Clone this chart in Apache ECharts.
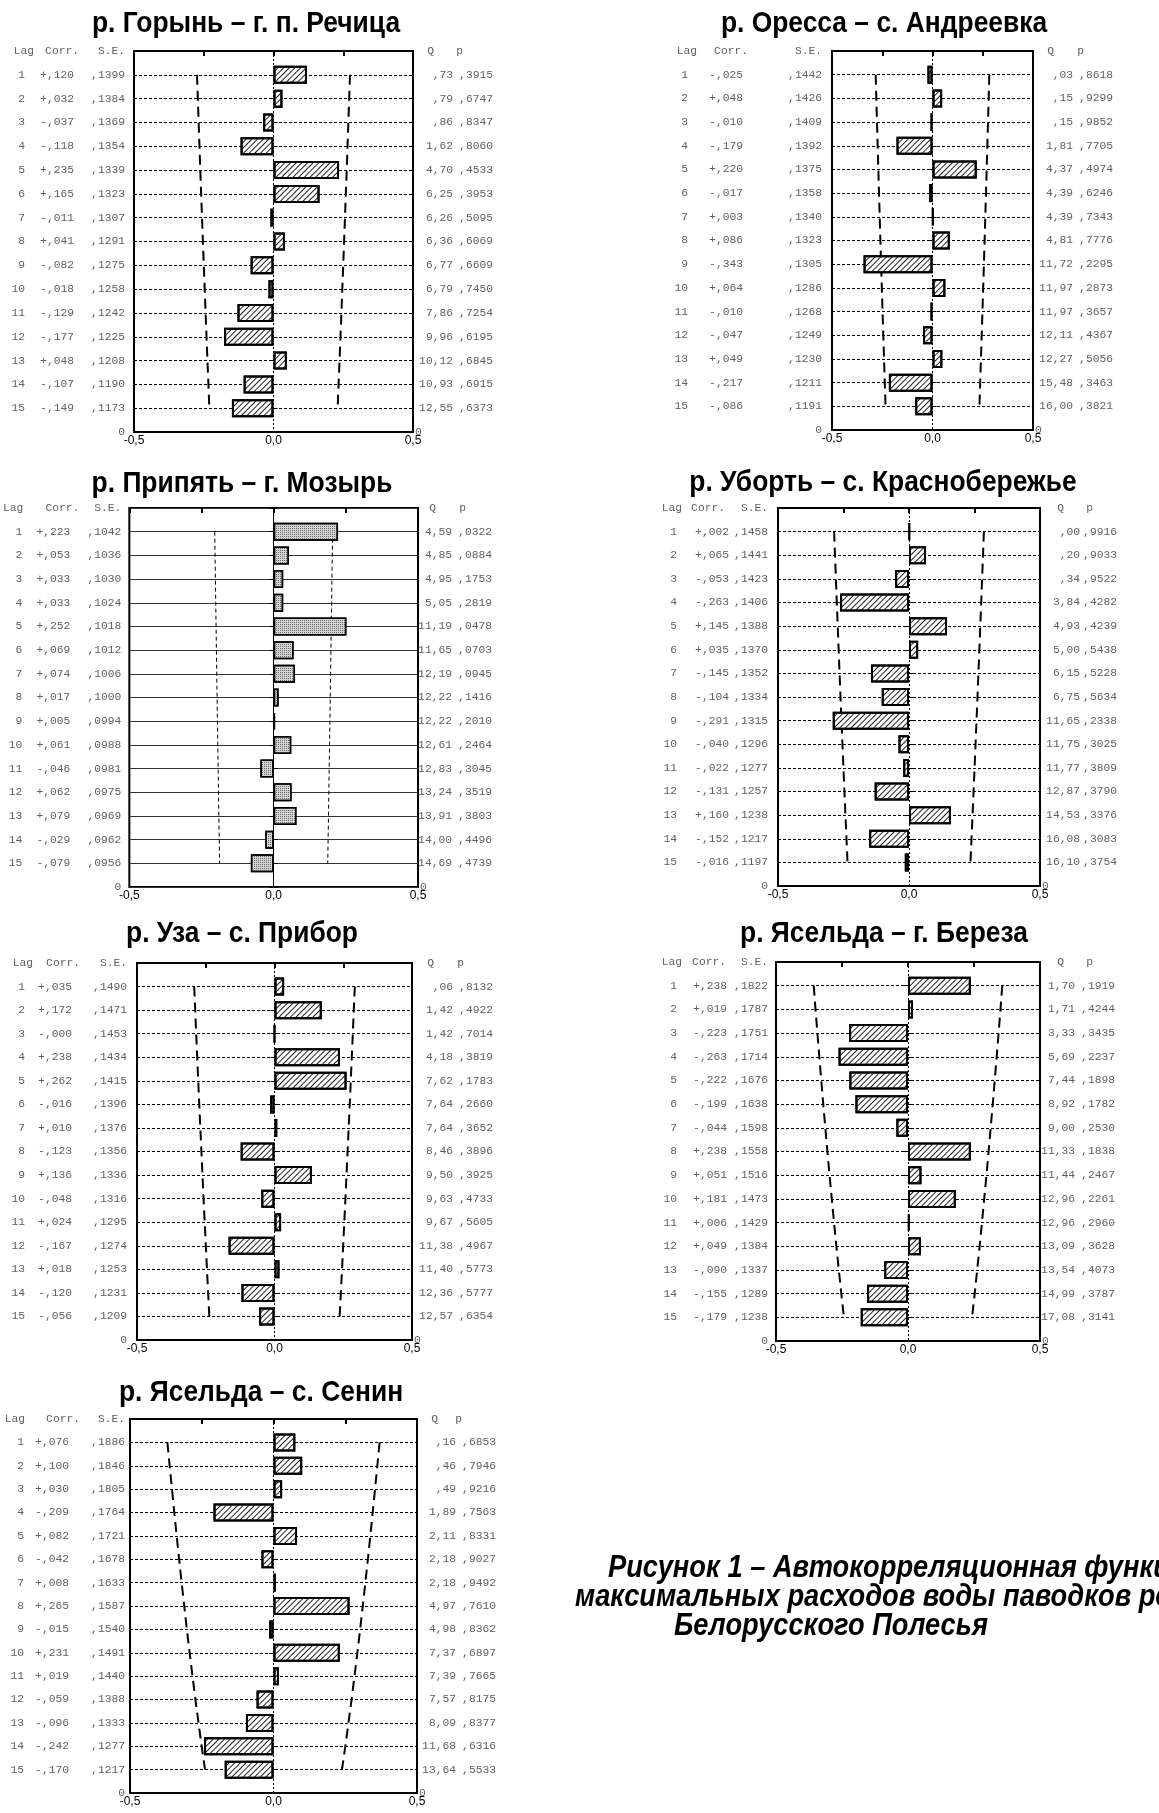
<!DOCTYPE html>
<html>
<head>
<meta charset="utf-8">
<script src="https://cdn.jsdelivr.net/npm/echarts@6/dist/echarts.min.js"></script>
<style>
html, body { margin: 0; padding: 0; background: #fff; }
#chart { width: 1159px; height: 1813px; }
</style>
</head>
<body>
<div id="chart"></div>
<script>
// лаги 1..15
var lags = [1, 2, 3, 4, 5, 6, 7, 8, 9, 10, 11, 12, 13, 14, 15];

// р. Горынь – г. п. Речица
var corrGor = [0.120, 0.032, -0.037, -0.118, 0.235, 0.165, -0.011, 0.041, -0.082, -0.018, -0.129, -0.177, 0.048, -0.107, -0.149];
var seGor   = [0.1399, 0.1384, 0.1369, 0.1354, 0.1339, 0.1323, 0.1307, 0.1291, 0.1275, 0.1258, 0.1242, 0.1225, 0.1208, 0.1190, 0.1173];
var qGor    = [0.73, 0.79, 0.86, 1.62, 4.70, 6.25, 6.26, 6.36, 6.77, 6.79, 7.86, 9.96, 10.12, 10.93, 12.55];
var pGor    = [0.3915, 0.6747, 0.8347, 0.8060, 0.4533, 0.3953, 0.5095, 0.6069, 0.6609, 0.7450, 0.7254, 0.6195, 0.6845, 0.6915, 0.6373];

// р. Оресса – с. Андреевка
var corrOre = [-0.025, 0.048, -0.010, -0.179, 0.220, -0.017, 0.003, 0.086, -0.343, 0.064, -0.010, -0.047, 0.049, -0.217, -0.086];
var seOre   = [0.1442, 0.1426, 0.1409, 0.1392, 0.1375, 0.1358, 0.1340, 0.1323, 0.1305, 0.1286, 0.1268, 0.1249, 0.1230, 0.1211, 0.1191];
var qOre    = [0.03, 0.15, 0.15, 1.81, 4.37, 4.39, 4.39, 4.81, 11.72, 11.97, 11.97, 12.11, 12.27, 15.48, 16.00];
var pOre    = [0.8618, 0.9299, 0.9852, 0.7705, 0.4974, 0.6246, 0.7343, 0.7776, 0.2295, 0.2873, 0.3657, 0.4367, 0.5056, 0.3463, 0.3821];

// р. Припять – г. Мозырь
var corrPri = [0.223, 0.053, 0.033, 0.033, 0.252, 0.069, 0.074, 0.017, 0.005, 0.061, -0.046, 0.062, 0.079, -0.029, -0.079];
var sePri   = [0.1042, 0.1036, 0.1030, 0.1024, 0.1018, 0.1012, 0.1006, 0.1000, 0.0994, 0.0988, 0.0981, 0.0975, 0.0969, 0.0962, 0.0956];
var qPri    = [4.59, 4.85, 4.95, 5.05, 11.19, 11.65, 12.19, 12.22, 12.22, 12.61, 12.83, 13.24, 13.91, 14.00, 14.69];
var pPri    = [0.0322, 0.0884, 0.1753, 0.2819, 0.0478, 0.0703, 0.0945, 0.1416, 0.2010, 0.2464, 0.3045, 0.3519, 0.3803, 0.4496, 0.4739];

// р. Уборть – с. Краснобережье
var corrUbo = [0.002, 0.065, -0.053, -0.263, 0.145, 0.035, -0.145, -0.104, -0.291, -0.040, -0.022, -0.131, 0.160, -0.152, -0.016];
var seUbo   = [0.1458, 0.1441, 0.1423, 0.1406, 0.1388, 0.1370, 0.1352, 0.1334, 0.1315, 0.1296, 0.1277, 0.1257, 0.1238, 0.1217, 0.1197];
var qUbo    = [0.00, 0.20, 0.34, 3.84, 4.93, 5.00, 6.15, 6.75, 11.65, 11.75, 11.77, 12.87, 14.53, 16.08, 16.10];
var pUbo    = [0.9916, 0.9033, 0.9522, 0.4282, 0.4239, 0.5438, 0.5228, 0.5634, 0.2338, 0.3025, 0.3809, 0.3790, 0.3376, 0.3083, 0.3754];

// р. Уза – с. Прибор
var corrUza = [0.035, 0.172, -0.000, 0.238, 0.262, -0.016, 0.010, -0.123, 0.136, -0.048, 0.024, -0.167, 0.018, -0.120, -0.056];
var seUza   = [0.1490, 0.1471, 0.1453, 0.1434, 0.1415, 0.1396, 0.1376, 0.1356, 0.1336, 0.1316, 0.1295, 0.1274, 0.1253, 0.1231, 0.1209];
var qUza    = [0.06, 1.42, 1.42, 4.18, 7.62, 7.64, 7.64, 8.46, 9.50, 9.63, 9.67, 11.38, 11.40, 12.36, 12.57];
var pUza    = [0.8132, 0.4922, 0.7014, 0.3819, 0.1783, 0.2660, 0.3652, 0.3896, 0.3925, 0.4733, 0.5605, 0.4967, 0.5773, 0.5777, 0.6354];

// р. Ясельда – г. Береза
var corrBer = [0.238, 0.019, -0.223, -0.263, -0.222, -0.199, -0.044, 0.238, 0.051, 0.181, 0.006, 0.049, -0.090, -0.155, -0.179];
var seBer   = [0.1822, 0.1787, 0.1751, 0.1714, 0.1676, 0.1638, 0.1598, 0.1558, 0.1516, 0.1473, 0.1429, 0.1384, 0.1337, 0.1289, 0.1238];
var qBer    = [1.70, 1.71, 3.33, 5.69, 7.44, 8.92, 9.00, 11.33, 11.44, 12.96, 12.96, 13.09, 13.54, 14.99, 17.08];
var pBer    = [0.1919, 0.4244, 0.3435, 0.2237, 0.1898, 0.1782, 0.2530, 0.1838, 0.2467, 0.2261, 0.2960, 0.3628, 0.4073, 0.3787, 0.3141];

// р. Ясельда – с. Сенин
var corrSen = [0.076, 0.100, 0.030, -0.209, 0.082, -0.042, 0.008, 0.265, -0.015, 0.231, 0.019, -0.059, -0.096, -0.242, -0.170];
var seSen   = [0.1886, 0.1846, 0.1805, 0.1764, 0.1721, 0.1678, 0.1633, 0.1587, 0.1540, 0.1491, 0.1440, 0.1388, 0.1333, 0.1277, 0.1217];
var qSen    = [0.16, 0.46, 0.49, 1.89, 2.11, 2.18, 2.18, 4.97, 4.98, 7.37, 7.39, 7.57, 8.09, 11.68, 13.64];
var pSen    = [0.6853, 0.7946, 0.9216, 0.7563, 0.8331, 0.9027, 0.9492, 0.7610, 0.8362, 0.6897, 0.7665, 0.8175, 0.8377, 0.6316, 0.5533];

var captionLines = [
	'Рисунок 1 – Автокорреляционная функция',
	'максимальных расходов воды паводков рек',
	'Белорусского Полесья'
];

// раскладка панелей (пиксели)
var panels = [
	{ title: 'р. Горынь – г. п. Речица', corr: corrGor, se: seGor, q: qGor, p: pGor,
	  box: [134, 51, 279, 381], tx: [246, 24],
	  L: { lagR: 25, corrR: 74, seR: 125, LagR: 34, CorrR: 79 }, R: { qR: 453, pR: 493, QR: 434, PR: 463 } },
	{ title: 'р. Оресса – с. Андреевка', corr: corrOre, se: seOre, q: qOre, p: pOre,
	  box: [832, 51, 201, 379], tx: [884, 24],
	  L: { lagR: 688, corrR: 743, seR: 822, LagR: 697, CorrR: 748 }, R: { qR: 1073, pR: 1113, QR: 1054, PR: 1084 } },
	{ title: 'р. Припять – г. Мозырь', corr: corrPri, se: sePri, q: qPri, p: pPri, dots: true,
	  box: [128, 508, 290, 379], tx: [242, 484],
	  L: { lagR: 21, corrR: 69, seR: 120, LagR: 22, CorrR: 78 }, R: { qR: 452, pR: 492, QR: 436, PR: 466 } },
	{ title: 'р. Уборть – с. Краснобережье', corr: corrUbo, se: seUbo, q: qUbo, p: pUbo,
	  box: [778, 508, 262, 378], tx: [883, 483],
	  L: { lagR: 677, corrR: 729, seR: 768, LagR: 682, CorrR: 725 }, R: { qR: 1080, pR: 1117, QR: 1064, PR: 1093 } },
	{ title: 'р. Уза – с. Прибор', corr: corrUza, se: seUza, q: qUza, p: pUza,
	  box: [137, 963, 275, 377], tx: [242, 934],
	  L: { lagR: 25, corrR: 72, seR: 127, LagR: 33, CorrR: 80 }, R: { qR: 453, pR: 493, QR: 434, PR: 464 } },
	{ title: 'р. Ясельда – г. Береза', corr: corrBer, se: seBer, q: qBer, p: pBer,
	  box: [776, 962, 264, 379], tx: [884, 934],
	  L: { lagR: 677, corrR: 727, seR: 768, LagR: 682, CorrR: 726 }, R: { qR: 1075, pR: 1115, QR: 1064, PR: 1093 } },
	{ title: 'р. Ясельда – с. Сенин', corr: corrSen, se: seSen, q: qSen, p: pSen,
	  box: [130, 1419, 287, 374], tx: [261, 1393],
	  L: { lagR: 24, corrR: 69, seR: 125, LagR: 25, CorrR: 80 }, R: { qR: 456, pR: 496, QR: 438, PR: 462 } }
];

var MONO = '"Liberation Mono", "Courier New", monospace';
var SANS = '"Liberation Sans", Arial, sans-serif';

function fmtCorr(v) {
	var sign = (v < 0 || Object.is(v, -0)) ? '-' : '+';
	return sign + Math.abs(v).toFixed(3).replace(/^0\./, ',');
}
function fmtDec(v, d) {
	return v.toFixed(d).replace('.', ',').replace(/^0,/, ',');
}
function mono(extra) {
	var s = { fontFamily: MONO, fontSize: 11.3, color: '#606060' };
	for (var k in extra) s[k] = extra[k];
	return s;
}

var cats = [];
for (var i = 0; i <= 16; i++) cats.push(String(i));

var grids = [], xAxes = [], yAxes = [], series = [], graphics = [];

panels.forEach(function (pn, n) {
	var b = pn.box, L = pn.L, R = pn.R;
	var axL = b[0], axR = b[0] + b[2];
	var start = axR + 2;
	grids.push({ left: b[0], top: b[1], width: b[2], height: b[3], show: true,
		borderColor: '#000', borderWidth: 2, backgroundColor: 'transparent' });

	xAxes.push({
		type: 'value', gridIndex: n, min: -0.5, max: 0.5, interval: 0.5,
		axisLine: { show: false }, axisTick: { show: false },
		axisLabel: { margin: 3, color: '#000', fontFamily: SANS, fontSize: 12,
			formatter: function (v) { return v.toFixed(1).replace('.', ','); } },
		splitLine: { show: true, lineStyle: { color: '#000', width: 1, type: pn.dots ? 'solid' : [2, 2] } }
	});
	xAxes.push({
		type: 'value', gridIndex: n, position: 'top', min: -0.5, max: 0.5, interval: 0.25,
		axisLine: { show: false }, axisLabel: { show: false }, splitLine: { show: false },
		axisTick: { show: true, inside: true, length: 5, lineStyle: { color: '#000', width: 2 } }
	});

	var leftRich = {
		a: mono({ width: 40, align: 'right' }),
		b: mono({ width: L.corrR - L.lagR, align: 'right' }),
		c: mono({ width: L.seR - L.corrR, align: 'right' }),
		ha: mono({ width: 40, align: 'right' }),
		hb: mono({ width: L.CorrR - L.LagR, align: 'right' }),
		hc: mono({ width: L.seR - L.CorrR, align: 'right' }),
		z: mono({})
	};
	var rightRich = {
		q: mono({ width: R.qR - start, align: 'right' }),
		p: mono({ width: R.pR - R.qR, align: 'right' }),
		hq: mono({ width: R.QR - start, align: 'right' }),
		hp: mono({ width: R.PR - R.QR, align: 'right' }),
		z: mono({})
	};
	var sideTick = { show: true, inside: true, length: 4, interval: 0, lineStyle: { color: '#000', width: 1 } };

	yAxes.push({
		type: 'category', gridIndex: n, data: cats, inverse: true, boundaryGap: false,
		axisLine: { show: false }, axisTick: sideTick,
		splitLine: { show: true, lineStyle: { color: pn.dots ? '#333' : '#000', width: 1, type: pn.dots ? 'solid' : [3, 2] } },
		axisLabel: {
			interval: 0, margin: axL - L.seR, rich: leftRich,
			formatter: function (v, idx) {
				if (idx === 0) return '{ha|Lag}{hb|Corr.}{hc|S.E.}';
				if (idx === 16) return '{z|0}';
				var k = idx - 1;
				return '{a|' + lags[k] + '}{b|' + fmtCorr(pn.corr[k]) + '}{c|' + fmtDec(pn.se[k], 4) + '}';
			}
		}
	});
	yAxes.push({
		type: 'category', gridIndex: n, data: cats, inverse: true, boundaryGap: false, position: 'right',
		axisLine: { show: false }, axisTick: sideTick, splitLine: { show: false },
		axisLabel: {
			interval: 0, margin: start - axR, rich: rightRich,
			formatter: function (v, idx) {
				if (idx === 0) return '{hq|Q}{hp|p}';
				if (idx === 16) return '{z|0}';
				var k = idx - 1;
				return '{q|' + fmtDec(pn.q[k], 2) + '}{p|' + fmtDec(pn.p[k], 4) + '}';
			}
		}
	});

	var decal = pn.dots
		? { symbol: 'rect', symbolSize: 1, color: '#6a6a6a', dashArrayX: [1, 1], dashArrayY: [1, 1] }
		: { symbol: 'rect', symbolSize: 1, color: '#222', dashArrayX: [1, 0], dashArrayY: [1, 2.2], rotation: -Math.PI / 4 };

	series.push({
		type: 'bar', xAxisIndex: 2 * n, yAxisIndex: 2 * n, silent: true, z: 4,
		barWidth: 18,
		itemStyle: { color: pn.dots ? '#d4d4d4' : '#fff', borderColor: '#000', borderWidth: pn.dots ? 1.5 : 2, decal: decal },
		data: ['-'].concat(pn.corr).concat(['-'])
	});
	// доверительные границы ±1,96·S.E.
	[1, -1].forEach(function (sgn) {
		series.push({
			type: 'line', xAxisIndex: 2 * n, yAxisIndex: 2 * n, silent: true, z: 3,
			symbol: 'none', animation: false,
			lineStyle: { color: '#000', width: pn.dots ? 1 : 2, type: pn.dots ? [4, 3] : [10, 6] },
			data: lags.map(function (l, k) { return [sgn * 1.96 * pn.se[k], l]; })
		});
	});

	graphics.push({
		type: 'text', x: pn.tx[0], y: pn.tx[1], scaleX: 0.88,
		style: { text: pn.title, font: 'bold 30px ' + SANS, fill: '#000',
			align: 'center', verticalAlign: 'middle', textAlign: 'center', textVerticalAlign: 'middle' }
	});
});

var capPos = [[608, 1568], [575, 1597], [674, 1626]];
captionLines.forEach(function (t, i) {
	graphics.push({
		type: 'text', x: capPos[i][0], y: capPos[i][1], scaleX: 0.88,
		style: { text: t, font: 'italic bold 31px ' + SANS, fill: '#000',
			align: 'left', verticalAlign: 'middle', textAlign: 'left', textVerticalAlign: 'middle' }
	});
});

var myChart = echarts.init(document.getElementById('chart'));
myChart.setOption({
	backgroundColor: '#fff',
	animation: false,
	grid: grids,
	xAxis: xAxes,
	yAxis: yAxes,
	series: series,
	graphic: graphics
});
</script>
</body>
</html>
